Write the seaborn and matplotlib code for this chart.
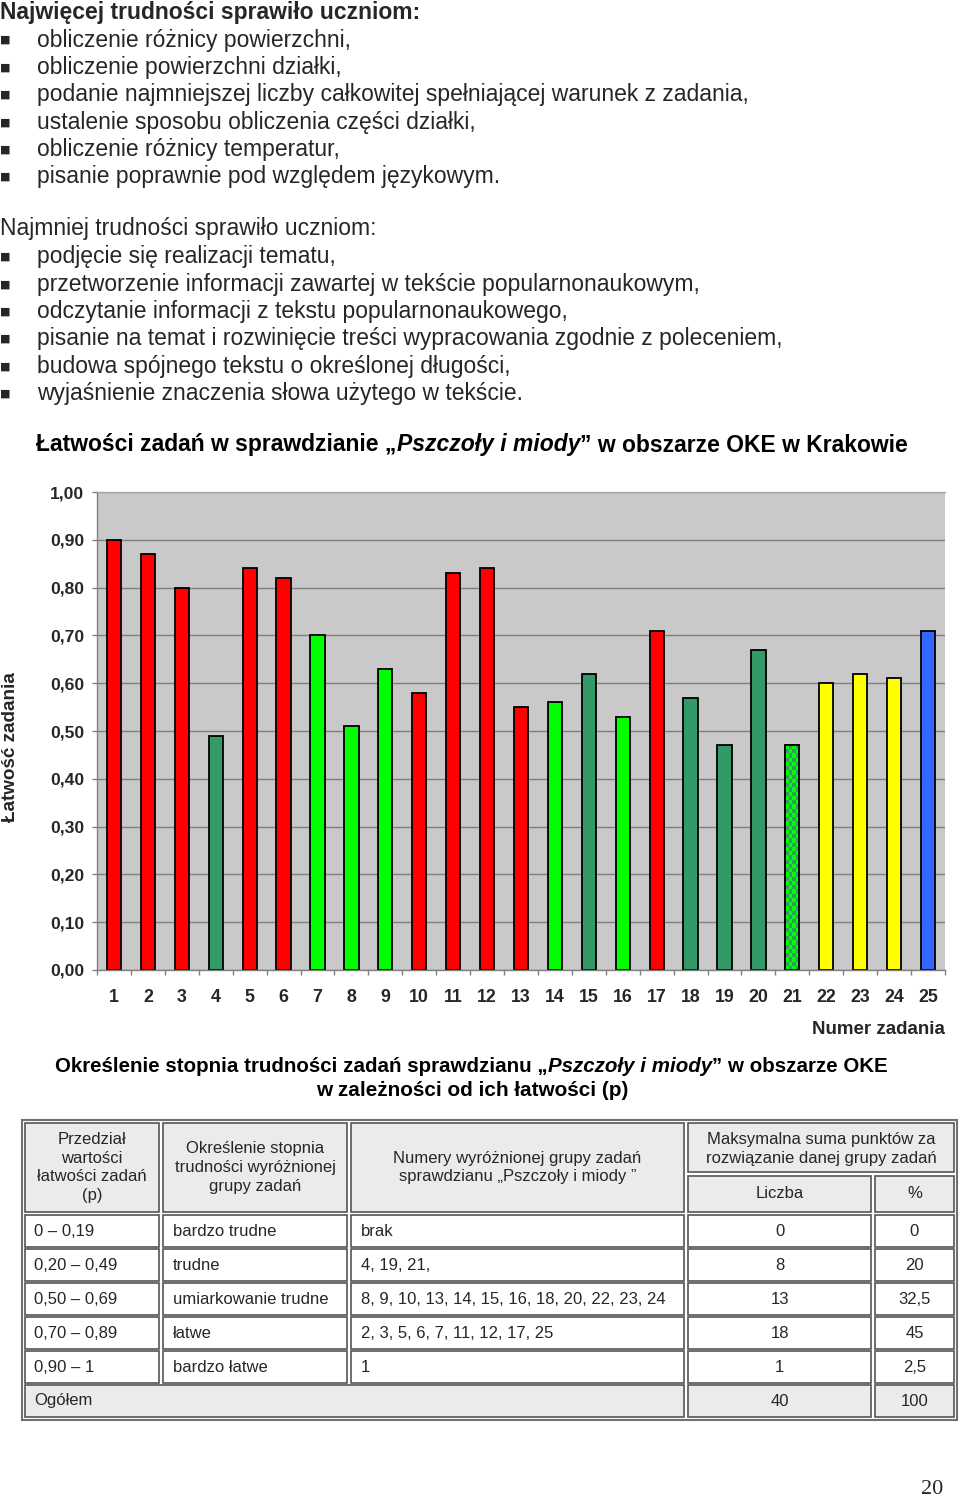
import numpy as np
import matplotlib
matplotlib.use("Agg")
import matplotlib.pyplot as plt
import seaborn as sns
from matplotlib.patches import Rectangle

# ------------------------------------------------------------------ data
hard_heading = "Najwięcej trudności sprawiło uczniom:"
hard_items = [
    "obliczenie różnicy powierzchni,",
    "obliczenie powierzchni działki,",
    "podanie najmniejszej liczby całkowitej spełniającej warunek z zadania,",
    "ustalenie sposobu obliczenia części działki,",
    "obliczenie różnicy temperatur,",
    "pisanie poprawnie pod względem językowym.",
]
easy_heading = "Najmniej trudności sprawiło uczniom:"
easy_items = [
    "podjęcie się realizacji tematu,",
    "przetworzenie informacji zawartej w tekście popularnonaukowym,",
    "odczytanie informacji z tekstu popularnonaukowego,",
    "pisanie na temat i rozwinięcie treści wypracowania zgodnie z poleceniem,",
    "budowa spójnego tekstu o określonej długości,",
    "wyjaśnienie znaczenia słowa użytego w tekście.",
]

chart_title = ["Łatwości zadań w sprawdzianie „", "Pszczoły i miody", "” w obszarze OKE w Krakowie"]
tasks = [str(i) for i in range(1, 26)]
easiness = [0.90, 0.87, 0.80, 0.49, 0.84, 0.82, 0.70, 0.51, 0.63, 0.58,
            0.83, 0.84, 0.55, 0.56, 0.62, 0.53, 0.71, 0.57, 0.47, 0.67,
            0.47, 0.60, 0.62, 0.61, 0.71]
bar_colors = ["#FF0000", "#FF0000", "#FF0000", "#339966", "#FF0000",
              "#FF0000", "#00FF00", "#00FF00", "#00FF00", "#FF0000",
              "#FF0000", "#FF0000", "#FF0000", "#00FF00", "#339966",
              "#00FF00", "#FF0000", "#339966", "#339966", "#339966",
              "#00FF00", "#FFFF00", "#FFFF00", "#FFFF00", "#3366FF"]
checkered_tasks = ["21"]
ytick_values = [0.0, 0.1, 0.2, 0.3, 0.4, 0.5, 0.6, 0.7, 0.8, 0.9, 1.0]
ytick_labels = ["0,00", "0,10", "0,20", "0,30", "0,40", "0,50",
                "0,60", "0,70", "0,80", "0,90", "1,00"]
y_label = "Łatwość zadania"
x_label = "Numer zadania"

sub_line1 = ["Określenie stopnia trudności zadań sprawdzianu „", "Pszczoły i miody", "” w obszarze OKE"]
sub_line2 = "w zależności od ich łatwości (p)"

header_texts = ["Przedział\nwartości\nłatwości zadań\n(p)",
                "Określenie stopnia\ntrudności wyróżnionej\ngrupy zadań",
                "Numery wyróżnionej grupy zadań\nsprawdzianu „Pszczoły i miody ”",
                "Maksymalna suma punktów za\nrozwiązanie danej grupy zadań",
                "Liczba", "%"]
ranges = ["0 – 0,19", "0,20 – 0,49", "0,50 – 0,69", "0,70 – 0,89", "0,90 – 1"]
levels = ["bardzo trudne", "trudne", "umiarkowanie trudne", "łatwe", "bardzo łatwe"]
task_groups = ["brak", "4, 19, 21,", "8, 9, 10, 13, 14, 15, 16, 18, 20, 22, 23, 24",
               "2, 3, 5, 6, 7, 11, 12, 17, 25", "1"]
points = ["0", "8", "13", "18", "1"]
percents = ["0", "20", "32,5", "45", "2,5"]
total_row = ["Ogółem", "40", "100"]
page_number = "20"

# ------------------------------------------------------------------ setup
sns.set_style("white")
plt.rcParams["font.family"] = ["Liberation Sans", "DejaVu Sans"]

fig = plt.figure(figsize=(9.6, 15), dpi=100)
ov = fig.add_axes([0, 0, 1, 1])
ov.set_xlim(0, 960)
ov.set_ylim(1500, 0)
ov.axis("off")
ov.patch.set_visible(False)
renderer = fig.canvas.get_renderer()


def text_w(s, **kw):
    t = ov.text(0, 0, s + "|", **kw)
    t2 = ov.text(0, 0, "|", **kw)
    w = t.get_window_extent(renderer).width - t2.get_window_extent(renderer).width
    t.remove()
    t2.remove()
    return w


def rich(x, y, parts, size=None, ha="left", target=None):
    if target is not None:
        w10 = sum(text_w(p, fontsize=10, fontweight=wt, fontstyle=st) for p, wt, st in parts)
        size = 10 * target / w10
    widths = [text_w(p, fontsize=size, fontweight=wt, fontstyle=st) for p, wt, st in parts]
    total = sum(widths)
    if ha == "center":
        x0 = x - total / 2
    elif ha == "right":
        x0 = x - total
    else:
        x0 = x
    for (p, wt, st), w in zip(parts, widths):
        ov.text(x0, y, p, fontsize=size, fontweight=wt, fontstyle=st,
                va="center", ha="left", color="black")
        x0 += w
    return size


# ------------------------------------------------------------------ top text
TOP = 16.5
ov.text(0, 13, hard_heading, fontsize=TOP, fontweight="bold", va="center", ha="left")
for i, item in enumerate(hard_items):
    y = 40 + i * 27.4
    ov.text(5, y, "■", fontsize=8, va="center", ha="center", family=["DejaVu Sans"])
    ov.text(37, y, item, fontsize=TOP, va="center", ha="left")
ov.text(0, 229, easy_heading, fontsize=TOP, va="center", ha="left")
for i, item in enumerate(easy_items):
    y = 257 + i * 27.3
    ov.text(5, y, "■", fontsize=8, va="center", ha="center", family=["DejaVu Sans"])
    ov.text(37, y, item, fontsize=TOP, va="center", ha="left")

# chart title
rich(472, 445, [(chart_title[0], "bold", "normal"),
                (chart_title[1], "bold", "italic"),
                (chart_title[2], "bold", "normal")], ha="center", target=872)

# ------------------------------------------------------------------ chart
ax = fig.add_axes([97 / 960, (1500 - 970) / 1500, 848 / 960, 478 / 1500])
ax.set_facecolor("#C9C9C9")
sns.barplot(x=tasks, y=easiness, hue=tasks, palette=dict(zip(tasks, bar_colors)),
            legend=False, width=0.42, saturation=1, edgecolor="black",
            linewidth=1.3, ax=ax)

for p in list(ax.patches):
    cx = p.get_x() + p.get_width() / 2
    idx = int(round(cx))
    if 0 <= idx < len(tasks) and tasks[idx] in checkered_tasks:
        x0, w, h = p.get_x(), p.get_width(), p.get_height()
        rows = max(1, int(round(h * 478 / 4.2)))
        cols = 4
        chk = np.indices((rows, cols)).sum(axis=0) % 2
        light = np.array([0, 255, 0]) / 255
        dark = np.array([0x33, 0x99, 0x66]) / 255
        rgb = np.where(chk[..., None] == 1, dark, light)
        ax.imshow(rgb, extent=(x0, x0 + w, 0, h), aspect="auto",
                  interpolation="nearest", zorder=p.get_zorder() + 0.05)
        ax.add_patch(Rectangle((x0, 0), w, h, fill=False, edgecolor="black",
                               lw=1.3, zorder=p.get_zorder() + 0.1))

ax.set_xlim(-0.5, len(tasks) - 0.5)
ax.set_ylim(0, 1)
ax.set_aspect("auto")
ax.set_axisbelow(True)
ax.yaxis.grid(True, color="#808080", lw=1)
ax.xaxis.grid(False)
ax.set_xlabel("")
ax.set_ylabel("")

ax.set_yticks(ytick_values)
ax.set_yticklabels(ytick_labels, fontsize=12.6, fontweight="bold")
ax.tick_params(axis="y", length=3.6, width=1, color="#808080", pad=5.8, left=True)

ax.set_xticks(range(len(tasks)))
ax.set_xticklabels(tasks, fontsize=12.8, fontweight="bold")
ax.set_xticks(np.arange(-0.5, len(tasks), 1), minor=True)
ax.tick_params(axis="x", which="major", length=0, pad=14)
ax.tick_params(axis="x", which="minor", length=3.6, width=1, color="#808080", bottom=True)
for lab in ax.get_xticklabels():
    lab.set_x(lab.get_position()[0])

for s in ["left", "bottom"]:
    ax.spines[s].set_color("#808080")
    ax.spines[s].set_linewidth(1)
ax.spines["top"].set_color("#A8A8A8")
ax.spines["top"].set_linewidth(1)
ax.spines["right"].set_visible(False)

ov.text(945, 1030, x_label, fontsize=13.5, fontweight="bold", ha="right", va="center")
ov.text(11, 747, y_label, fontsize=13.6, fontweight="bold", ha="center",
        va="center", rotation=90)

# ------------------------------------------------------------------ subtitle
rich(55, 1066, [(sub_line1[0], "bold", "normal"),
                (sub_line1[1], "bold", "italic"),
                (sub_line1[2], "bold", "normal")], ha="left", target=834)
rich(472, 1090, [(sub_line2, "bold", "normal")], ha="center", target=312)

# ------------------------------------------------------------------ table
TS = 12
EDGE = "#555555"
HBG = "#EBEBEB"
LS = 1.3
col_x = [(25, 159), (163, 347), (351, 684), (688, 871), (875, 954)]
row_y = [(1215, 1247), (1249, 1281), (1283, 1315), (1317, 1349), (1351, 1383)]
total_y = (1385, 1417)


def cell(x0, x1, y0, y1, bg="white"):
    ov.add_patch(Rectangle((x0, y0), x1 - x0, y1 - y0, facecolor=bg,
                           edgecolor=EDGE, lw=1.2))


ov.add_patch(Rectangle((22, 1120), 935, 300, fill=False, edgecolor="#707070", lw=1.5))

# header
hy = (1123, 1212)
for j in range(3):
    cell(col_x[j][0], col_x[j][1], hy[0], hy[1], HBG)
    ov.text((col_x[j][0] + col_x[j][1]) / 2, (hy[0] + hy[1]) / 2, header_texts[j],
            fontsize=TS, ha="center", va="center", multialignment="center", linespacing=LS)
cell(col_x[3][0], col_x[4][1], 1123, 1172, HBG)
ov.text((col_x[3][0] + col_x[4][1]) / 2, 1149, header_texts[3], fontsize=TS,
        ha="center", va="center", multialignment="center", linespacing=LS)
cell(col_x[3][0], col_x[3][1], 1176, 1212, HBG)
ov.text((col_x[3][0] + col_x[3][1]) / 2, 1193, header_texts[4], fontsize=TS, ha="center", va="center")
cell(col_x[4][0], col_x[4][1], 1176, 1212, HBG)
ov.text((col_x[4][0] + col_x[4][1]) / 2, 1193, header_texts[5], fontsize=TS, ha="center", va="center")

# body
for i, (y0, y1) in enumerate(row_y):
    yc = (y0 + y1) / 2
    for j in range(5):
        cell(col_x[j][0], col_x[j][1], y0, y1)
    ov.text(col_x[0][0] + 9, yc, ranges[i], fontsize=TS, va="center", ha="left")
    ov.text(col_x[1][0] + 10, yc, levels[i], fontsize=TS, va="center", ha="left")
    ov.text(col_x[2][0] + 10, yc, task_groups[i], fontsize=TS, va="center", ha="left")
    ov.text((col_x[3][0] + col_x[3][1]) / 2, yc, points[i], fontsize=TS, va="center", ha="center")
    ov.text((col_x[4][0] + col_x[4][1]) / 2, yc, percents[i], fontsize=TS, va="center", ha="center")

# total row
y0, y1 = total_y
yc = (y0 + y1) / 2
cell(col_x[0][0], col_x[2][1], y0, y1, HBG)
cell(col_x[3][0], col_x[3][1], y0, y1, HBG)
cell(col_x[4][0], col_x[4][1], y0, y1, HBG)
ov.text(col_x[0][0] + 9, yc, total_row[0], fontsize=TS, va="center", ha="left")
ov.text((col_x[3][0] + col_x[3][1]) / 2, yc, total_row[1], fontsize=TS, va="center", ha="center")
ov.text((col_x[4][0] + col_x[4][1]) / 2, yc, total_row[2], fontsize=TS, va="center", ha="center")

# page number
ov.text(932, 1489, page_number, fontsize=16, family=["Liberation Serif"], ha="center", va="center")

fig.savefig("out.png", dpi=100)
